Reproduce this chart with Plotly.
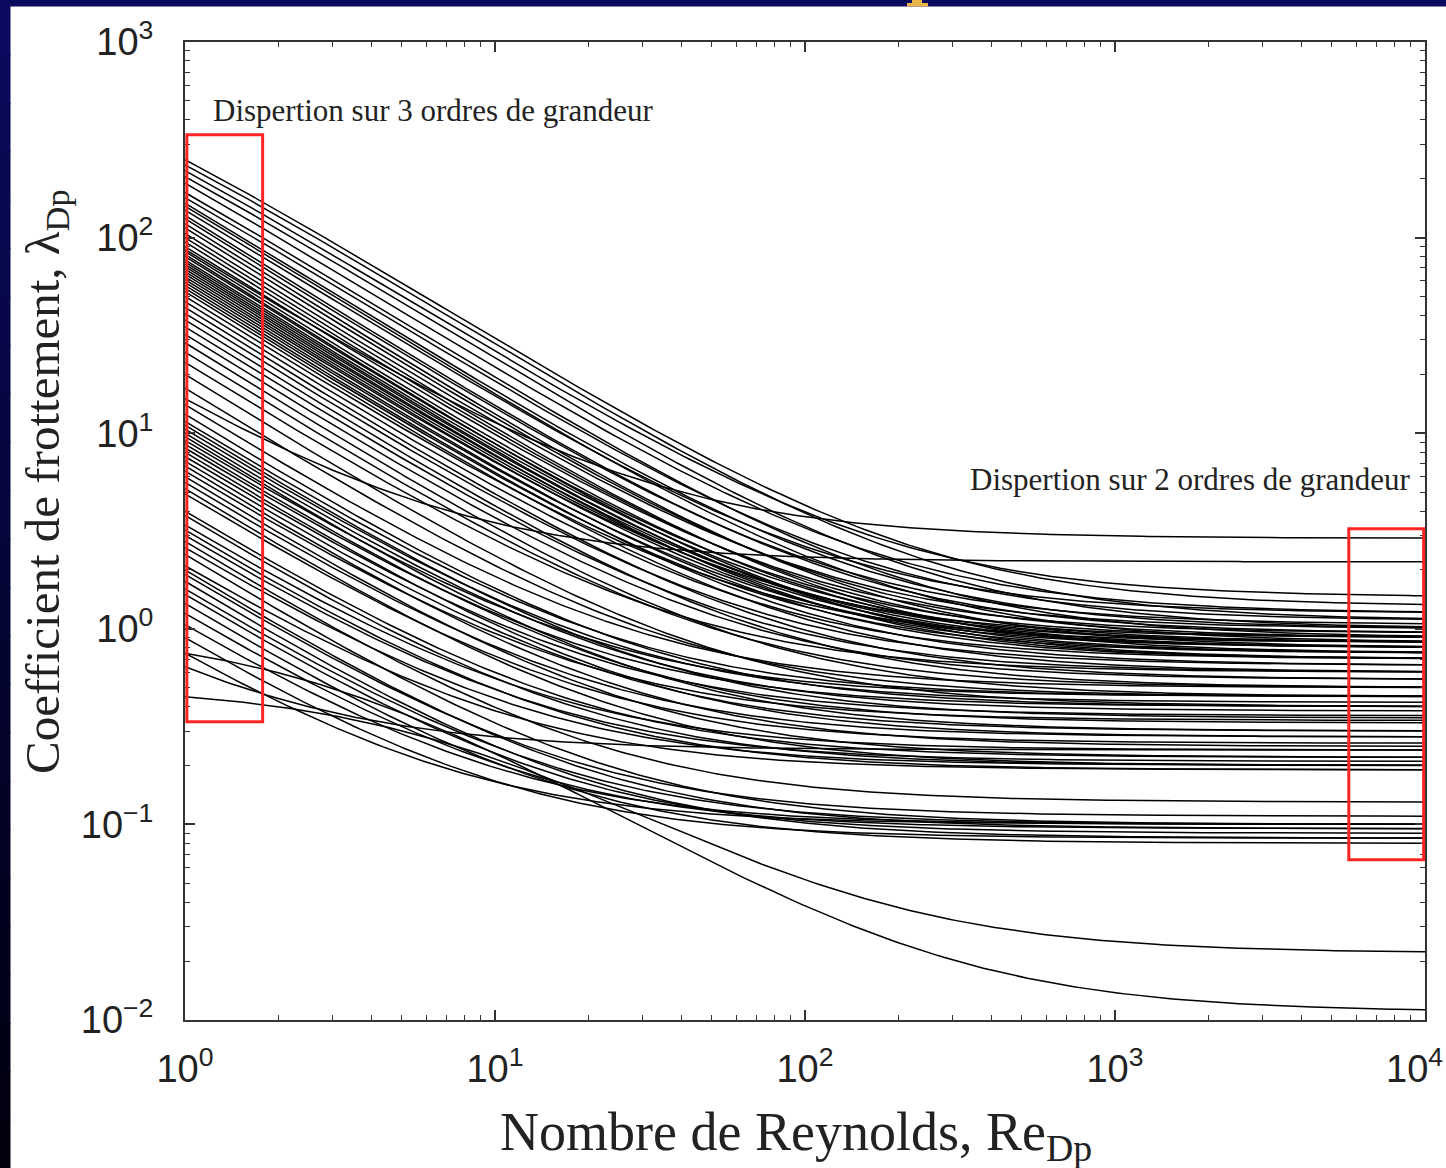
import numpy as np
import plotly.graph_objects as go

# Friction-factor correlations lambda = A/(Re + c) + B:
# value at Re_Dp = 1, plateau value at high Re_Dp, and Re offset c (curvature)
lam_re1 = [250, 235, 220, 205, 190, 170, 160, 150, 145, 138, 130, 125, 118, 112,
           105, 100, 95, 90, 87, 85, 82, 80, 77, 75, 73, 71, 69, 67, 65, 63, 61,
           59, 57, 55, 53, 50, 47, 44, 41, 38, 35, 32, 29, 26, 23, 20, 17, 15, 14,
           12.5, 11.5, 11, 10.5, 10, 9.6, 9.2, 8.8, 8.4, 8.0, 7.6, 7.2, 6.8, 6.4,
           6.0, 5.6, 5.2, 4.9,
           4.0, 3.8, 0.45, 3.4, 3.2, 3.0, 2.8, 2.6, 2.4, 0.75, 2.1, 2.0, 1.9, 1.75,
           1.6, 1.5, 1.35, 1.2, 1.05, 0.9, 0.75, 0.64]
lam_inf = [1.3, 1.1, 1.45, 1.0, 1.2, 0.9, 1.1, 1.0, 0.85, 1.2, 0.95, 1.05, 0.8, 0.9,
           1.0, 0.75, 0.85, 0.95, 2.9, 0.8, 0.7, 0.9, 0.85, 0.75, 0.8, 0.7, 0.85,
           0.8, 0.75, 0.9, 0.7, 0.8, 0.65, 0.75, 0.6, 0.85, 0.7, 0.55, 0.65, 0.5,
           0.6, 0.55, 0.45, 0.5, 0.6, 0.4, 0.45, 2.2, 0.5,
           0.4, 0.45, 0.35, 0.42, 0.38, 0.3, 0.45, 0.33, 0.4, 0.28, 0.36, 0.3, 0.25,
           0.34, 0.22, 0.28, 0.2, 0.26,
           0.22, 0.2, 0.022, 0.24, 0.19, 0.21, 0.13, 0.2, 0.1, 0.011, 0.19, 0.095,
           0.11, 0.085, 0.1, 0.09, 0.08, 0.095, 0.1, 0.085, 0.1, 0.24]
re_offset = [0.2, 0.2, 0.15, 0.15, 0.1, 0.1, 0.1, 0.05, 0.05, 0.05, 0, 0, 0, 0,
             0, 0, 0, 0, 0, 0, 0, 0, 0, 0, 0, 0, 0, 0, 0, 0, 0,
             0, 0, 0, 0, 0, 0, 0, 0, 0, 0, 0, 0, 0, 0, 0, 0, 0, 0,
             0, 0, 0, 0, 0, 0, 0, 0, 0, 0, 0, 0, 0, 0,
             0, 0, 0, 0,
             0, 0, 6.5, 0, 0, 0, 0, 0, 0, 2.8, 0, 0, 0, 0,
             0, 0, 0, 0, 0, 0, 0, 0]

x_tick_vals = [1, 10, 100, 1000, 10000]
x_tick_text = ["10<sup>0</sup>", "10<sup>1</sup>", "10<sup>2</sup>", "10<sup>3</sup>", "10<sup>4</sup>"]
y_tick_vals = [0.01, 0.1, 1, 10, 100, 1000]
y_tick_text = ["10<sup>\u22122</sup>", "10<sup>\u22121</sup>", "10<sup>0</sup>",
               "10<sup>1</sup>", "10<sup>2</sup>", "10<sup>3</sup>"]

# highlighted ranges: (Re_min, Re_max, lambda_min, lambda_max)
box_left = (1.0, 1.78, 0.335, 336)
box_right = (5600, 9900, 0.066, 3.25)

re = np.logspace(0, 4, 220)
xs, ys = [], []
for l1, li, c in zip(lam_re1, lam_inf, re_offset):
    a = (l1 - li) * (1 + c)
    xs.extend(list(re) + [None])
    ys.extend(list(a / (re + c) + li) + [None])

fig = go.Figure()
fig.add_trace(go.Scatter(x=xs, y=ys, mode="lines",
                         line=dict(color="black", width=1.5),
                         showlegend=False, hoverinfo="skip"))

W, H = 1446, 1168
L, R, T, B = 185, 1425, 42, 1020
XR = (0, 4)
YR = (-2, 3)
def px(xp):
    return (xp - L) / (R - L)
def py(yp):
    return (B - yp) / (B - T)
def dx(v):
    return (np.log10(v) - XR[0]) / (XR[1] - XR[0])
def dy(v):
    return (np.log10(v) - YR[0]) / (YR[1] - YR[0])

shapes = []
# slide background strips (navy gradient)
shapes.append(dict(type="rect", xref="paper", yref="paper", x0=px(0), x1=px(W),
                   y0=py(6.5), y1=py(0), fillcolor="#0a0a5e", line=dict(width=0), layer="above"))
n = 24
for i in range(n):
    t = i / (n - 1)
    r_ = int(10 * (1 - t) + 1 * t)
    g_ = int(10 * (1 - t) + 1 * t)
    b_ = int(94 * (1 - t) + 16 * t)
    y0p = 6 + (H - 6) * i / n
    y1p = min(H, 6 + (H - 6) * (i + 1) / n + 1)
    shapes.append(dict(type="rect", xref="paper", yref="paper", x0=px(0), x1=px(10.5),
                       y0=py(y1p), y1=py(y0p), fillcolor=f"rgb({r_},{g_},{b_})",
                       line=dict(width=0), layer="above"))
# small yellow mark at the top edge
shapes.append(dict(type="rect", xref="paper", yref="paper", x0=px(907), x1=px(928),
                   y0=py(6.5), y1=py(3), fillcolor="#e9b448", line=dict(width=0), layer="above"))
shapes.append(dict(type="rect", xref="paper", yref="paper", x0=px(912), x1=px(922),
                   y0=py(3.5), y1=py(0), fillcolor="#e9b448", line=dict(width=0), layer="above"))
# red highlight boxes
for bx in (box_left, box_right):
    shapes.append(dict(type="rect", xref="paper", yref="paper",
                       x0=dx(bx[0]) + 0.0015, x1=dx(bx[1]), y0=dy(bx[2]), y1=dy(bx[3]),
                       line=dict(color="#ff2424", width=3), fillcolor="rgba(0,0,0,0)", layer="above"))

serif = "Liberation Serif, Times New Roman, serif"
sans = "Liberation Sans, Arial, sans-serif"
annotations = [
    dict(text="Dispertion sur 3 ordres de grandeur", xref="paper", yref="paper",
         x=px(211), y=py(110), xanchor="left", yanchor="middle", showarrow=False,
         font=dict(family=serif, size=31, color="#222")),
    dict(text="Dispertion sur 2 ordres de grandeur", xref="paper", yref="paper",
         x=px(1413), y=py(480), xanchor="right", yanchor="middle", showarrow=False,
         font=dict(family=serif, size=31, color="#222")),
    dict(text="Nombre de Reynolds, Re<sub>Dp</sub>", xref="paper", yref="paper",
         x=px(796), y=py(1135), xanchor="center", yanchor="middle", showarrow=False,
         font=dict(family=serif, size=54, color="#222")),
    dict(text="Coefficient de frottement, \u03bb<sub>Dp</sub>", xref="paper", yref="paper",
         x=px(45), y=py(482), xanchor="center", yanchor="middle", showarrow=False, textangle=-90,
         font=dict(family=serif, size=49, color="#222")),
    # last x tick label, cut by the right edge in the original; kept inside the page here
    dict(text=x_tick_text[-1], xref="paper", yref="paper",
         x=px(W - 1), y=py(1040), xanchor="right", yanchor="top", showarrow=False,
         font=dict(family=sans, size=38, color="#222")),
]

axis_common = dict(type="log", showgrid=False, zeroline=False, showline=True,
                   linecolor="#333", linewidth=2, mirror="allticks",
                   ticks="inside", ticklen=10, tickwidth=1.5, tickcolor="#333",
                   tickfont=dict(family=sans, size=38, color="#222"),
                   minor=dict(ticks="inside", ticklen=5, tickwidth=1.2, tickcolor="#333", dtick="D1"))

fig.update_layout(
    width=W, height=H,
    margin=dict(l=L, r=W - R, t=T, b=H - B, pad=0),
    paper_bgcolor="white", plot_bgcolor="white",
    xaxis=dict(range=list(XR), tickmode="array", tickvals=x_tick_vals[:-1],
               ticktext=x_tick_text[:-1], ticklabelstandoff=14, **axis_common),
    yaxis=dict(range=list(YR), tickmode="array", tickvals=y_tick_vals, ticktext=y_tick_text,
               ticklabelstandoff=22, **axis_common),
    shapes=shapes, annotations=annotations, showlegend=False,
)

fig.write_html("out.html", config={"displayModeBar": False},
               post_script="document.body.style.margin='0px';document.body.style.overflow='hidden';")
